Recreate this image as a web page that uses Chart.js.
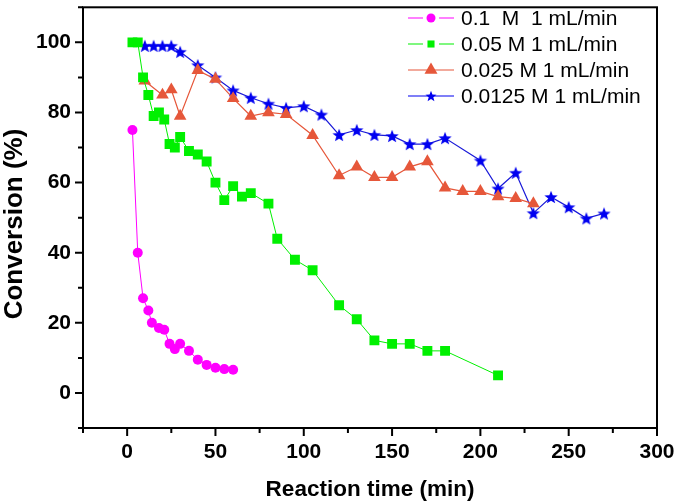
<!DOCTYPE html>
<html>
<head>
<meta charset="utf-8">
<script src="https://cdn.jsdelivr.net/npm/chart.js@4.4.1/dist/chart.umd.min.js"></script>
<style>
  html, body { margin: 0; padding: 0; background: #fff; }
  #wrap { width: 675px; height: 503px; }
</style>
</head>
<body>
<div id="wrap"><canvas id="chart" width="675" height="503"></canvas></div>
<script>
// series data
const seriesNames = ['0.1  M  1 mL/min', '0.05 M 1 mL/min', '0.025 M 1 mL/min', '0.0125 M 1 mL/min'];

const timeA = [3, 6, 9, 12, 14, 18, 21, 24, 27, 30, 35, 40, 45, 50, 55, 60];
const convA = [75, 40, 27, 23.5, 20, 18.5, 18, 14, 12.5, 14, 12, 9.5, 8, 7.2, 6.8, 6.6];

const timeB = [3, 6, 9, 12, 15, 18, 21, 24, 27, 30, 35, 40, 45, 50, 55, 60, 65, 70, 80, 85, 95, 105, 120, 130, 140, 150, 160, 170, 180, 210];
const convB = [100, 100, 90, 85, 79, 80, 78, 71, 70, 73, 69, 68, 66, 60, 55, 59, 56, 57, 54, 44, 38, 35, 25, 21, 15, 14, 14, 12, 12, 5];

const timeC = [10, 20, 25, 30, 40, 50, 60, 70, 80, 90, 105, 120, 130, 140, 150, 160, 170, 180, 190, 200, 210, 220, 230];
const convC = [89, 85, 86.5, 79, 92, 89.5, 84, 79, 80, 79.5, 73.5, 62, 64.5, 61.5, 61.5, 64.5, 66, 58.5, 57.5, 57.5, 56, 55.5, 54];

const timeD = [10, 15, 20, 25, 30, 40, 50, 60, 70, 80, 90, 100, 110, 120, 130, 140, 150, 160, 170, 180, 200, 210, 220, 230, 240, 250, 260, 270];
const convD = [99, 99, 99, 99, 97.3, 93.5, 90, 86.3, 84.2, 82.5, 81.3, 81.8, 79.4, 73.6, 75, 73.6, 73.3, 71, 71, 72.7, 66.3, 58.3, 62.8, 51.3, 55.9, 53, 49.8, 51.2];

const xTickLabels = [0, 50, 100, 150, 200, 250, 300];
const yTickLabels = [0, 20, 40, 60, 80, 100];
const yTitle = 'Conversion (%)';

const FONT = "'Liberation Sans', Arial, sans-serif";
const colMagenta = '#ff00ff';
const colGreen = '#00f000';
const colRed = '#e6573a';
const colBlue = '#0000f0';

function toPoints(xs, ys) {
  return xs.map((x, i) => ({ x: x, y: ys[i] }));
}

// filled five-point star, used as a point style
function makeStar(R, color) {
  const size = Math.ceil(R * 2 + 2);
  const c = document.createElement('canvas');
  c.width = size; c.height = size;
  const g = c.getContext('2d');
  const cx = size / 2, cy = size / 2 + R * 0.1;
  const r = R * 0.42;
  g.beginPath();
  for (let i = 0; i < 10; i++) {
    const rad = (i % 2 === 0) ? R : r;
    const a = -Math.PI / 2 + i * Math.PI / 5;
    const px = cx + Math.cos(a) * rad, py = cy + Math.sin(a) * rad;
    if (i === 0) g.moveTo(px, py); else g.lineTo(px, py);
  }
  g.closePath();
  g.fillStyle = color;
  g.fill();
  return c;
}

const starPlot = makeStar(7, colBlue);
const starLegend = makeStar(5.8, colBlue);

// legend drawn inside the plot, top right
const legendItems = [
  { style: 'circle', r: 4.5, color: colMagenta, gap: true },
  { style: 'rect', r: 5, color: colGreen, gap: true },
  { style: 'triangle', r: 7.5, color: colRed, gap: false },
  { style: starLegend, r: 6, color: colBlue, gap: false }
];

const framePlugin = {
  id: 'frame',
  afterDraw(chart) {
    const ctx = chart.ctx;
    const a = chart.chartArea;
    const xs = chart.scales.x, ys = chart.scales.y;
    ctx.save();
    ctx.strokeStyle = '#000';
    ctx.lineWidth = 2;
    ctx.strokeRect(a.left, a.top, a.right - a.left, a.bottom - a.top);
    ctx.beginPath();
    xs.ticks.forEach(t => {
      const px = xs.getPixelForValue(t.value);
      const len = t.value % 50 === 0 ? 8 : 5;
      ctx.moveTo(px, a.bottom);
      ctx.lineTo(px, a.bottom + len);
    });
    ys.ticks.forEach(t => {
      const py = ys.getPixelForValue(t.value);
      const len = t.value % 20 === 0 ? 8 : 5;
      ctx.moveTo(a.left, py);
      ctx.lineTo(a.left - len, py);
    });
    ctx.stroke();

    // y axis title
    ctx.save();
    ctx.translate(21.5, 224);
    ctx.rotate(-Math.PI / 2);
    ctx.font = 'bold 26px ' + FONT;
    ctx.fillStyle = '#000';
    ctx.textAlign = 'center';
    ctx.textBaseline = 'alphabetic';
    ctx.fillText(yTitle, 0, 0);
    ctx.restore();

    // legend
    const rowY = [18, 44, 70, 96];
    ctx.font = '21px ' + FONT;
    ctx.textBaseline = 'middle';
    ctx.textAlign = 'left';
    legendItems.forEach((it, i) => {
      const y = rowY[i];
      ctx.strokeStyle = it.color;
      ctx.lineWidth = 1.2;
      ctx.beginPath();
      if (it.gap) {
        ctx.moveTo(408, y); ctx.lineTo(423, y);
        ctx.moveTo(439, y); ctx.lineTo(454, y);
      } else {
        ctx.moveTo(408, y); ctx.lineTo(454, y);
      }
      ctx.stroke();
      ctx.fillStyle = it.color;
      Chart.helpers.drawPoint(ctx, { pointStyle: it.style, radius: it.r, rotation: 0, borderWidth: 0 }, 431, y);
      ctx.fillStyle = '#000';
      ctx.fillText(seriesNames[i], 461, y + 1);
    });
    ctx.restore();
  }
};

function noPad(s) {
  s.paddingTop = 0;
  s.paddingBottom = 0;
  s.paddingLeft = 0;
  s.paddingRight = 0;
}

const ctx = document.getElementById('chart').getContext('2d');

new Chart(ctx, {
  type: 'line',
  data: {
    datasets: [
      {
        label: seriesNames[0],
        data: toPoints(timeA, convA),
        borderColor: colMagenta,
        backgroundColor: colMagenta,
        borderWidth: 1,
        pointStyle: 'circle',
        pointRadius: 5,
        pointBorderWidth: 0
      },
      {
        label: seriesNames[1],
        data: toPoints(timeB, convB),
        borderColor: colGreen,
        backgroundColor: colGreen,
        borderWidth: 1,
        pointStyle: 'rect',
        pointRadius: 7,
        pointBorderWidth: 0
      },
      {
        label: seriesNames[2],
        data: toPoints(timeC, convC),
        borderColor: colRed,
        backgroundColor: colRed,
        borderWidth: 1.2,
        pointStyle: 'triangle',
        pointRadius: 7.3,
        pointBorderWidth: 0
      },
      {
        label: seriesNames[3],
        data: toPoints(timeD, convD),
        borderColor: '#1a1ad8',
        backgroundColor: colBlue,
        borderWidth: 1.2,
        pointStyle: starPlot,
        pointRadius: 7,
        pointBorderWidth: 0
      }
    ]
  },
  options: {
    responsive: false,
    animation: false,
    layout: { padding: { top: 3, right: 18, left: 0, bottom: 0 } },
    plugins: {
      legend: { display: false },
      tooltip: { enabled: false }
    },
    scales: {
      x: {
        type: 'linear',
        min: -25,
        max: 300,
        grid: { display: false, drawTicks: false },
        border: { display: false },
        ticks: {
          stepSize: 25,
          padding: 12,
          maxRotation: 0,
          autoSkip: false,
          color: '#000',
          font: { family: FONT, size: 21, weight: 'bold' },
          callback: v => xTickLabels.includes(v) ? String(v) : ''
        },
        title: {
          display: true,
          text: 'Reaction time (min)',
          color: '#000',
          padding: 0,
          font: { family: FONT, size: 22.5, weight: 'bold' }
        },
        afterFit: s => { s.height = 75; noPad(s); }
      },
      y: {
        type: 'linear',
        min: -10,
        max: 110,
        grid: { display: false, drawTicks: false },
        border: { display: false },
        ticks: {
          stepSize: 10,
          padding: 12,
          autoSkip: false,
          color: '#000',
          font: { family: FONT, size: 21, weight: 'bold' },
          callback: v => yTickLabels.includes(v) ? String(v) : ''
        },
        title: { display: false },
        afterFit: s => { s.width = 83; noPad(s); }
      }
    }
  },
  plugins: [framePlugin]
});
</script>
</body>
</html>
